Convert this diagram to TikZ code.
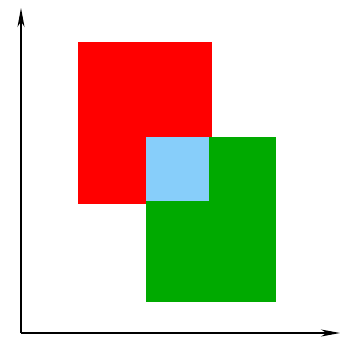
\documentclass[tikz,border=0pt]{standalone}
\usepackage{xcolor}
\usepackage{tikz}
\usetikzlibrary{arrows.meta}
\definecolor{ovRed}{HTML}{FF0000}
\definecolor{ovGreen}{HTML}{00AA00}
\definecolor{ovBlue}{HTML}{87CEFA}
\tikzset{
  % Axis arrows
  axis/.style={-{Stealth[length=0.57cm,width=0.21cm,inset=0.17cm]},line width=0.9pt,color=black},
  % Filled regions
  regA/.style={fill=ovRed,draw=none},
  regB/.style={fill=ovGreen,draw=none},
  regAB/.style={fill=ovBlue,draw=none},
}
\begin{document}
\begin{tikzpicture}[x=0.03cm,y=-0.03cm]
  \useasboundingbox (0,0) rectangle (346,342);

  % Regions
  \fill[regA] (78,42) rectangle (212,204);
  \fill[regB] (146,137) rectangle (276,302);
  \fill[regAB] (146,137) rectangle (209,201);

  % Axes
  \coordinate (O) at (21,333);
  \coordinate (xend) at (340,333);
  \coordinate (yend) at (21,8);
  \draw[axis] (O) -- (xend);
  \draw[axis] (O) -- (yend);
\end{tikzpicture}
\end{document}
